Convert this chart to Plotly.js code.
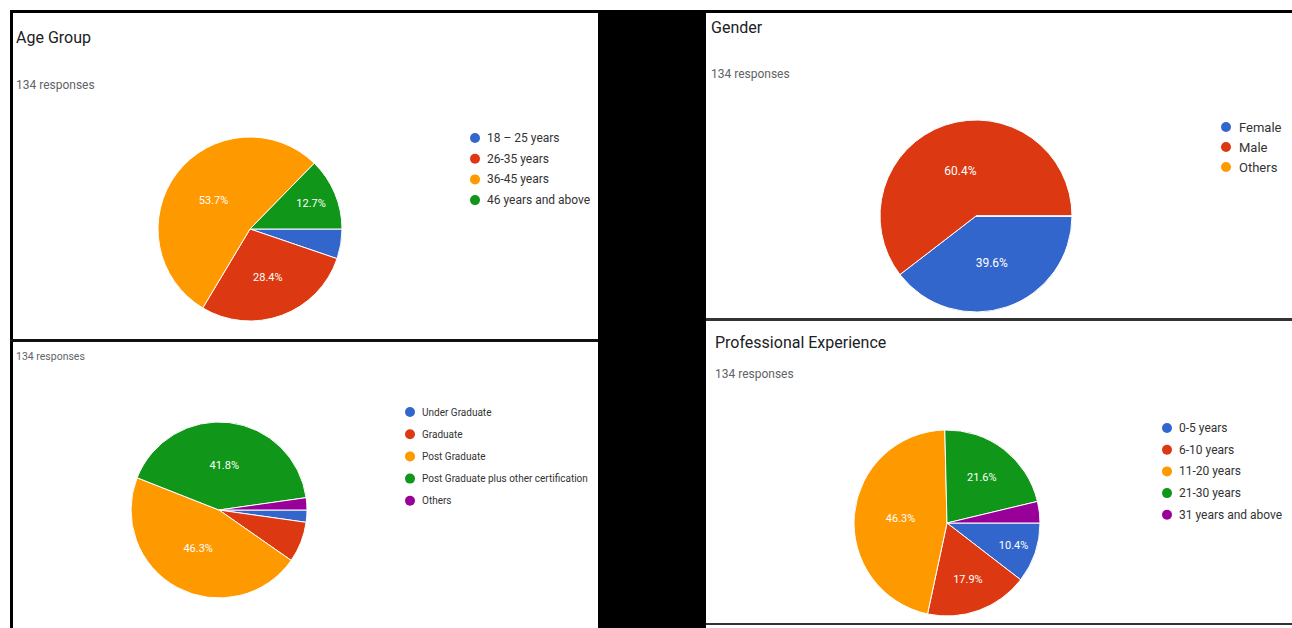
<!DOCTYPE html>
<html>
<head>
<meta charset="utf-8">
<script src="https://cdn.plot.ly/plotly-3.0.1.min.js"></script>
<style>
html,body{margin:0;padding:0;background:#fff;}
#chart{width:1292px;height:628px;}
</style>
</head>
<body>
<div id="chart"></div>
<script>
// ---- Data ----
const ageLabels = ['18 – 25 years', '26-35 years', '36-45 years', '46 years and above'];
const ageCounts = [7, 38, 72, 17];

const genderLabels = ['Female', 'Male', 'Others'];
const genderCounts = [53, 81, 0];

const eduLabels = ['Under Graduate', 'Graduate', 'Post Graduate', 'Post Graduate plus other certification', 'Others'];
const eduCounts = [3, 10, 62, 56, 3];

const expLabels = ['0-5 years', '6-10 years', '11-20 years', '21-30 years', '31 years and above'];
const expCounts = [14, 24, 62, 29, 5];

const panelTitles = ['Age Group', 'Gender', '', 'Professional Experience'];
const responsesText = '134 responses';

const googleColors = ['#3366cc', '#dc3912', '#ff9900', '#109618', '#990099'];

// ---- Geometry helpers ----
const W = 1292, H = 628;
const X = p => p / W;
const Y = p => 1 - p / H;

function dom(cx, cy, r) {
  return { x: [X(cx - r), X(cx + r)], y: [Y(cy + r), Y(cy - r)] };
}

function templates(counts) {
  const tot = counts.reduce((a, b) => a + b, 0);
  return counts.map(c => (c / tot >= 0.09 ? '%{percent:.1%}' : ''));
}

const FONT = 'Roboto, Arial, sans-serif';

function pie(labels, counts, domain, textSize) {
  return {
    type: 'pie',
    labels: labels,
    values: counts,
    sort: false,
    direction: 'clockwise',
    rotation: 90,
    domain: domain,
    marker: { colors: googleColors.slice(0, labels.length), line: { color: '#ffffff', width: 1 } },
    texttemplate: templates(counts),
    textposition: 'inside',
    insidetextorientation: 'horizontal',
    textfont: { color: '#ffffff', size: textSize, family: FONT },
    hoverinfo: 'label+percent',
    showlegend: false
  };
}

const traces = [
  pie(ageLabels, ageCounts, dom(250, 229, 92), 11),
  pie(genderLabels, genderCounts, dom(976, 216, 96), 12),
  pie(eduLabels, eduCounts, dom(219, 510, 88), 11),
  pie(expLabels, expCounts, dom(947, 523, 93), 11)
];

// ---- Panels, borders ----
const shapes = [];
function rect(x0, y0, x1, y1, color) {
  shapes.push({ type: 'rect', xref: 'paper', yref: 'paper', x0: X(x0), x1: X(x1), y0: Y(y1), y1: Y(y0),
    fillcolor: color, line: { width: 0 }, layer: 'below' });
}
rect(598, 10, 706, 628, '#000000');   // middle black gap
rect(10, 10, 600, 13, '#000000');     // top-left border
rect(706, 10, 1292, 13, '#000000');   // top-right border
rect(10, 10, 13, 628, '#000000');     // left border
rect(10, 339, 598, 342, '#111111');   // left divider
rect(706, 318, 1292, 321, '#333333'); // right divider
rect(706, 623, 1292, 625, '#333333'); // bottom right border

// ---- Texts and legends ----
const annotations = [];
function txt(x, y, text, size, color) {
  annotations.push({ xref: 'paper', yref: 'paper', x: X(x), y: Y(y), text: text, showarrow: false,
    xanchor: 'left', yanchor: 'middle', font: { size: size, color: color, family: FONT } });
}
function legend(labels, dotX, textX, y0, dy, size) {
  labels.forEach((lab, i) => {
    const y = y0 + i * dy;
    shapes.push({ type: 'circle', xref: 'paper', yref: 'paper',
      x0: X(dotX - 5), x1: X(dotX + 5), y0: Y(y + 5), y1: Y(y - 5),
      fillcolor: googleColors[i], line: { width: 0 } });
    txt(textX, y, lab, size, '#333333');
  });
}

// Age Group
txt(14, 37, panelTitles[0], 16, '#202124');
txt(14, 85, responsesText, 12, '#5f6368');
legend(ageLabels, 475, 485, 138, 20.7, 12);

// Gender
txt(709, 27, panelTitles[1], 16, '#202124');
txt(709, 74, responsesText, 12, '#5f6368');
legend(genderLabels, 1226, 1237, 127, 20, 13);

// Education
txt(14, 356, responsesText, 10.5, '#5f6368');
legend(eduLabels, 410, 420, 412, 22.2, 10);

// Professional Experience
txt(713, 342, panelTitles[3], 16, '#202124');
txt(713, 374, responsesText, 12, '#5f6368');
legend(expLabels, 1167, 1177, 428, 21.7, 12);

const layout = {
  width: W, height: H,
  margin: { l: 0, r: 0, t: 0, b: 0 },
  paper_bgcolor: '#ffffff',
  plot_bgcolor: '#ffffff',
  showlegend: false,
  shapes: shapes,
  annotations: annotations,
  font: { family: FONT }
};

Plotly.newPlot('chart', traces, layout, { staticPlot: true, displayModeBar: false });
</script>
</body>
</html>
